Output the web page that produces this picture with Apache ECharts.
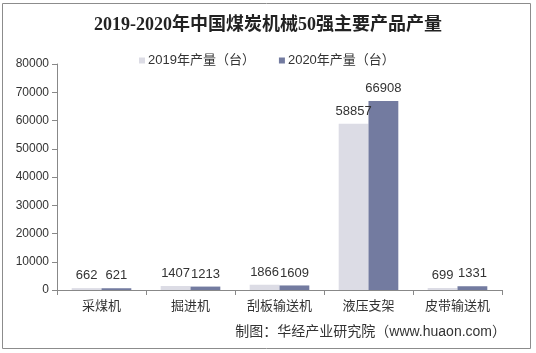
<!DOCTYPE html>
<html lang="zh">
<head>
    <meta charset="UTF-8">
    <script src="https://cdn.jsdelivr.net/npm/echarts@6/dist/echarts.min.js"></script>
    <title>煤炭机械产量</title>
    <style>
        html, body { margin: 0; padding: 0; background: #fff; }
        #main { width: 536px; height: 353px; }
    </style>
</head>
<body>
<div id="main"></div>
<script>
    var categories = ['采煤机', '掘进机', '刮板输送机', '液压支架', '皮带输送机'];
    var seriesNames = ['2019年产量（台）', '2020年产量（台）'];
    var values2019 = [662, 1407, 1866, 58857, 699];
    var values2020 = [621, 1213, 1609, 66908, 1331];

    var sans = "'Liberation Sans', 'Noto Sans CJK SC', sans-serif";

    var myChart = echarts.init(document.getElementById('main'));

    var option = {
        animation: false,
        title: {
            text: '2019-2020年中国煤炭机械50强主要产品产量',
            left: 'center',
            top: 11,
            textStyle: {
                fontFamily: "'Liberation Serif', 'Noto Sans CJK SC', serif",
                fontSize: 18,
                fontWeight: 'bold',
                color: '#222'
            }
        },
        legend: {
            data: seriesNames,
            top: 49,
            left: 134,
            itemWidth: 6,
            itemHeight: 6,
            itemGap: 24,
            icon: 'rect',
            textStyle: { fontFamily: sans, fontSize: 13, color: '#333', padding: [0, 0, 0, -2] }
        },
        grid: { left: 57, right: 34, top: 64, bottom: 63 },
        xAxis: {
            type: 'category',
            data: categories,
            axisLine: { lineStyle: { color: '#888' } },
            axisTick: { show: true, length: 5, lineStyle: { color: '#888' } },
            axisLabel: { fontFamily: sans, fontSize: 13, color: '#333', margin: 10 }
        },
        yAxis: {
            type: 'value',
            min: 0,
            max: 80000,
            interval: 10000,
            splitLine: { show: false },
            axisLine: { show: true, lineStyle: { color: '#888' } },
            axisTick: { show: true, length: 5, lineStyle: { color: '#888' } },
            axisLabel: {
                fontFamily: sans, fontSize: 12, color: '#333', margin: 8,
                formatter: function (v) { return String(v); }
            }
        },
        series: [
            {
                name: seriesNames[0],
                type: 'bar',
                data: values2019,
                barGap: '0%',
                barCategoryGap: '33%',
                itemStyle: { color: '#dcdce5' },
                label: { show: true, position: 'top', distance: 6, fontFamily: sans, fontSize: 13, color: '#333' }
            },
            {
                name: seriesNames[1],
                type: 'bar',
                data: values2020,
                itemStyle: { color: '#737ba0' },
                label: { show: true, position: 'top', distance: 6, fontFamily: sans, fontSize: 13, color: '#333' }
            }
        ],
        graphic: [
            {
                type: 'rect',
                shape: { x: 2.5, y: 3.5, width: 528, height: 345 },
                style: { fill: 'none', stroke: '#8c8c8c', lineWidth: 1 },
                silent: true
            },
            {
                type: 'text',
                right: 30,
                top: 325,
                style: {
                    text: '制图：华经产业研究院（www.huaon.com）',
                    fontFamily: sans,
                    fontSize: 14,
                    fill: '#333'
                }
            }
        ]
    };

    myChart.setOption(option);
</script>
</body>
</html>
